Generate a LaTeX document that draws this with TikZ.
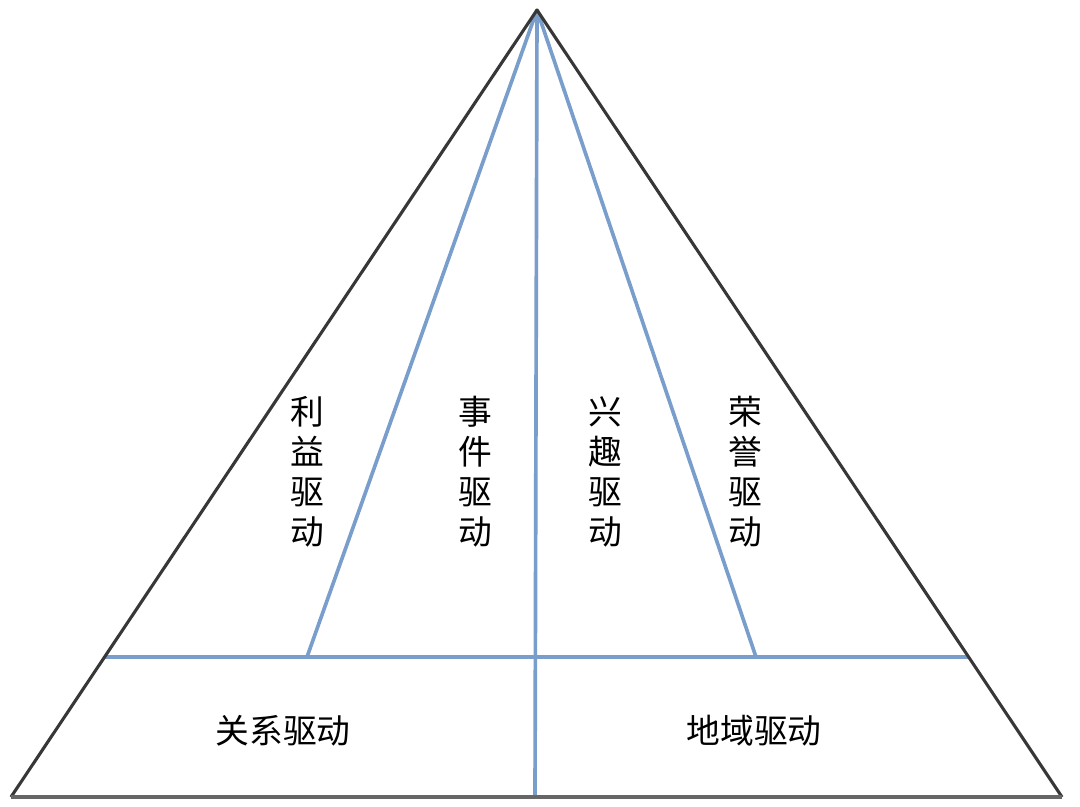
\documentclass[tikz,border=0pt]{standalone}
\usepackage{fontspec}
\newfontfamily\cjk{Noto Sans CJK SC}
\usetikzlibrary{calc}
\definecolor{splitblue}{RGB}{122,158,204}
\definecolor{edgegray}{RGB}{55,55,55}

\begin{document}
\begin{tikzpicture}[
    x=0.025cm, y=-0.025cm,
    edge/.style={draw=edgegray, line width=2.2pt, line join=round},
    split/.style={draw=splitblue, line width=2.6pt},
    vlabel/.style={font=\cjk\fontsize{24}{28.5}\selectfont, align=center, inner sep=0pt},
    hlabel/.style={font=\cjk\fontsize{24}{28.5}\selectfont, inner sep=0pt}
]
\useasboundingbox [fill=white] (0,0) rectangle (1080,807);

%% ---- CORNERS ----
\coordinate (apex)  at (537,10);
\coordinate (left)  at (11,797);
\coordinate (right) at (1062,797);
\coordinate (base)  at (535,797);

%% ---- DIVIDER POINTS ----
\coordinate (bandL) at ($(apex)!0.822!(left)$);
\coordinate (bandR) at ($(apex)!0.822!(right)$);
\coordinate (footL) at (307,657);
\coordinate (footR) at (756,657);

%% ---- BLUE DIVIDERS ----
\draw [split] (bandL) -- (bandR);
\draw [split] (apex) -- (base);
\draw [split] (apex) -- (footL);
\draw [split] (apex) -- (footR);

%% ---- TRIANGLE OUTLINE ----
\draw [edge] (left) -- (apex) -- (right);
\draw [edge, draw=gray!80!black, line width=2.6pt] (left) -- (right);

%% ---- UPPER LABELS (vertical) ----
\node [vlabel] (benefit)  at (307,472) {利\\益\\驱\\动};
\node [vlabel] (event)    at (475,472) {事\\件\\驱\\动};
\node [vlabel] (interest) at (605,472) {兴\\趣\\驱\\动};
\node [vlabel] (honour)   at (745,472) {荣\\誉\\驱\\动};

%% ---- LOWER LABELS ----
\node [hlabel] (relation) at (283,731) {关系驱动};
\node [hlabel] (region)   at (754,731) {地域驱动};

\end{tikzpicture}
\end{document}
